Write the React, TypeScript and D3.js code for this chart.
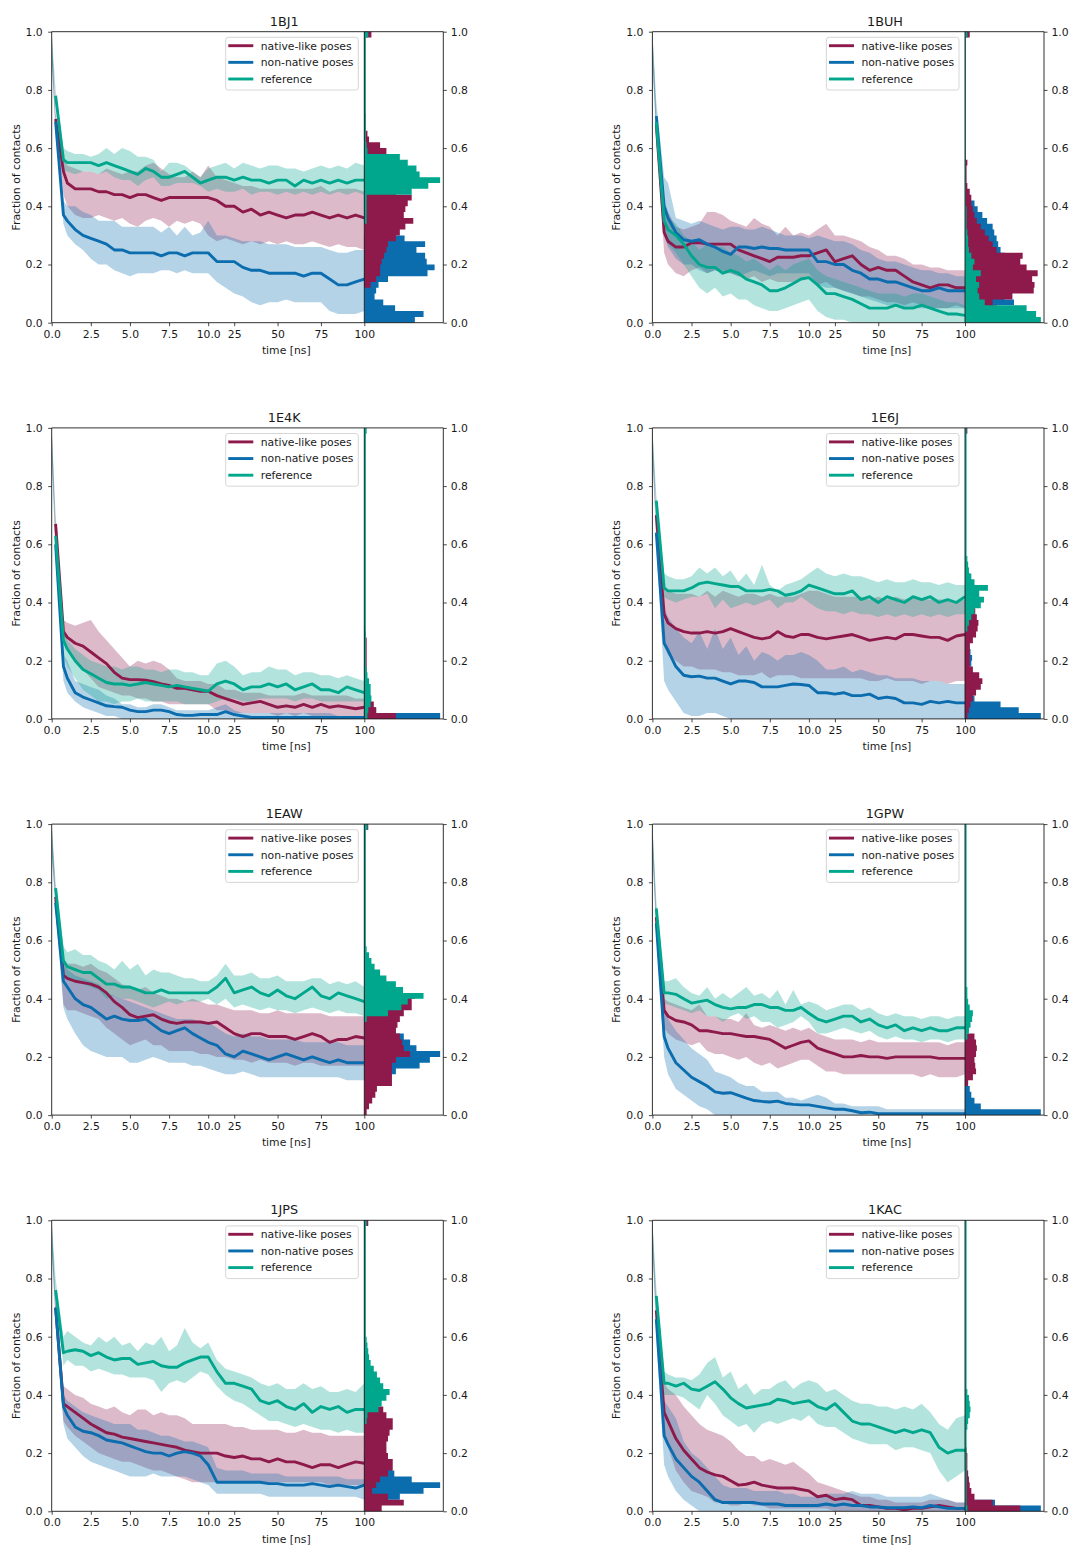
import React, { useEffect, useRef } from "react";
import * as d3 from "d3";

// sampling times [ns]; the time axis is split at 10 ns (two equal-width pieces)
const times = [0, 0.25, 0.75, 1, 1.5, 2, 2.5, 3, 3.5, 4, 4.5, 5, 5.5, 6, 6.5, 7, 7.5, 8, 8.5, 9, 9.5, 10,
  15, 20, 25, 30, 35, 40, 45, 50, 55, 60, 65, 70, 75, 80, 85, 90, 95, 100];
const timeTicks = [0, 2.5, 5, 7.5, 10, 25, 50, 75, 100];
const timeTickLabels = ["0.0", "2.5", "5.0", "7.5", "10.0", "25", "50", "75", "100"];
const fracTicks = [0, 20, 40, 60, 80, 100];
const seriesNames = ["native-like poses", "non-native poses", "reference"];
const seriesColors = ["#8e1a4c", "#0b6cae", "#00a78d"];
const BIN = 2; // histogram bin width in % of contacts (50 bins from 0 to 100)

// all values below: fraction of contacts in %

// ---- 1BJ1
const bj1Nat = [null, 70, 52, 48, 46, 46, 46, 45, 45, 44, 44, 43, 44, 44, 43, 42, 43, 43, 43, 43, 43, 43,
  42, 40, 40, 38, 39, 37, 38, 37, 36, 37, 37, 38, 37, 36, 37, 36, 37, 36];
const bj1NatHi = [100, 72, 56, 54, 53, 52, 52, 51, 53, 52, 51, 52, 52, 54, 55, 53, 51, 50, 50, 52, 50, 54,
  50, 49, 48, 47, 47, 46, 46, 46, 46, 46, 46, 46, 47, 45, 46, 46, 46, 45];
const bj1NatLo = [90, 66, 44, 40, 37, 36, 36, 37, 36, 35, 36, 34, 33, 35, 36, 35, 33, 35, 34, 35, 34, 30,
  28, 29, 28, 27, 28, 27, 28, 27, 28, 27, 27, 28, 27, 26, 27, 26, 26, 25];
const bj1Non = [null, 69, 37, 35, 32, 30, 29, 28, 27, 25, 25, 24, 24, 24, 24, 23, 24, 24, 23, 24, 24, 24,
  21, 21, 21, 19, 18, 18, 17, 17, 17, 17, 16, 17, 17, 15, 13, 13, 14, 15];
const bj1NonHi = [100, 70, 42, 40, 40, 38, 37, 35, 35, 35, 33, 33, 33, 33, 33, 31, 33, 30, 33, 30, 31, 35,
  30, 30, 29, 28, 28, 28, 27, 27, 27, 26, 26, 26, 26, 25, 24, 24, 25, 25];
const bj1NonLo = [90, 66, 34, 30, 27, 25, 22, 20, 20, 18, 17, 16, 17, 17, 17, 18, 18, 17, 18, 17, 17, 17,
  14, 12, 10, 9, 7, 6, 7, 7, 8, 7, 7, 7, 7, 4, 3, 3, 3, 4];
const bj1Ref = [null, 78, 56, 55, 55, 55, 55, 54, 55, 54, 53, 52, 51, 53, 52, 50, 50, 51, 52, 50, 48, 49,
  50, 50, 49, 50, 49, 49, 48, 49, 49, 47, 49, 48, 49, 48, 49, 48, 49, 49];
const bj1RefHi = [100, 80, 60, 59, 58, 58, 57, 58, 60, 58, 60, 59, 57, 57, 56, 52, 55, 55, 54, 52, 50, 53,
  54, 55, 53, 55, 54, 53, 54, 54, 53, 53, 52, 53, 54, 53, 54, 53, 55, 54];
const bj1RefLo = [90, 76, 52, 52, 51, 52, 52, 51, 52, 50, 49, 49, 47, 49, 50, 47, 47, 48, 48, 48, 47, 45,
  46, 45, 45, 46, 44, 45, 45, 44, 45, 44, 45, 44, 45, 44, 45, 44, 45, 44];
const bj1HistNat = [0, 0, 0, 0, 0, 0, 8, 15, 20, 20, 22, 25, 28, 30, 40, 45, 52, 62, 50, 52,
  55, 60, 40, 35, 35, 35, 33, 30, 28, 28, 20, 6, 4, 2, 2, 2, 1, 1, 1, 1, 1, 1, 1, 1, 1, 1, 1, 1, 1, 9];
const bj1HistNon = [64, 75, 39, 24, 13, 15, 18, 30, 80, 89, 79, 77, 66, 77, 51, 0, 0, 0, 0, 0,
  0, 0, 0, 0, 0, 0, 0, 0, 0, 0, 0, 0, 0, 0, 0, 0, 0, 0, 0, 0, 0, 0, 0, 0, 0, 0, 0, 0, 0, 0];
const bj1HistRef = [0, 0, 0, 0, 0, 0, 0, 0, 0, 0, 0, 0, 0, 0, 0, 0, 0, 3, 3, 3,
  3, 3, 60, 81, 96, 70, 66, 55, 45, 4, 3, 2, 2, 2, 2, 2, 2, 2, 2, 2, 2, 2, 2, 2, 2, 2, 2, 2, 2, 5];

// ---- 1BUH
const buhNat = [null, 68, 31, 28, 26, 26, 27.5, 27.5, 27, 27, 27, 27, 25, 24, 23, 22, 21, 22.5, 22.5, 22.5, 23, 23,
  24, 25, 21, 22, 23, 20, 18, 19, 18, 18, 16, 14, 13, 12, 13, 13, 12, 12];
const buhNatHi = [100, 70, 42, 38, 33, 32, 33, 34, 38, 38, 37, 35, 34, 33, 36, 34, 33, 30, 33, 30, 31, 30,
  32, 34, 30, 30, 29, 28, 26, 25, 23, 23, 22, 20, 20, 19, 19, 18, 18, 18];
const buhNatLo = [90, 66, 24, 20, 17, 16, 18, 19, 17, 18, 17, 17, 16, 15, 16, 14, 15, 14, 14, 14, 15, 15,
  13, 14, 12, 11, 10, 9, 9, 8, 7, 7, 6, 7, 6, 5, 5, 5, 6, 5];
const buhNon = [null, 71, 40, 36, 31, 28.5, 28, 28.5, 27, 26, 24.5, 23.5, 26, 26, 25.5, 26, 25.5, 25.5, 25, 25, 25, 25,
  21, 21, 20, 20, 18, 17, 15, 15, 14, 14, 13, 12, 11, 11, 12, 11, 11, 11];
const buhNonHi = [100, 76, 50, 48, 36, 35, 34, 35, 34, 33, 32, 33, 33, 32, 32, 33, 32, 31, 30, 30, 30, 29,
  30, 29, 28, 28, 27, 25, 24, 22, 21, 21, 20, 19, 18, 18, 17, 17, 16, 16];
const buhNonLo = [90, 62, 30, 26, 22, 20, 20, 18, 17, 18, 18, 17, 16, 17, 18, 17, 16, 17, 17, 17, 17, 17,
  13, 12, 12, 11, 10, 9, 8, 7, 6, 6, 5, 5, 5, 5, 5, 5, 5, 5];
const buhRef = [null, 69, 35, 32, 30, 27, 23, 20, 19, 19, 17, 18, 17, 15, 14, 13, 11, 11, 12, 13.5, 15, 15.5,
  13, 10, 10, 9, 8, 6.5, 5, 5, 5, 6, 5, 5, 6, 5, 4, 3, 3, 2.5];
const buhRefHi = [100, 72, 38, 36, 34, 30, 28, 25, 27, 26, 26, 24, 23, 21, 22, 20, 18, 20, 18, 20, 21, 22,
  18, 16, 15, 14, 13, 12, 11, 10, 10, 10, 9, 10, 10, 9, 8, 7, 7, 6];
const buhRefLo = [90, 66, 30, 27, 24, 20, 16, 12, 10, 12, 9, 10, 8, 8, 6, 5, 4, 4, 5, 6, 7, 8,
  4, 2, 1, 1, 0, 0, 0, 0, 0, 0, 0, 0, 0, 0, 0, 0, 0, 0];
const buhHistNat = [0, 0, 40, 35, 60, 87, 88, 85, 92, 78, 70, 73, 40, 35, 30, 25, 20, 15, 12, 10,
  8, 8, 6, 3, 2, 2, 2, 3, 1, 1, 1, 1, 1, 1, 1, 1, 1, 1, 1, 1, 1, 1, 1, 1, 1, 1, 1, 1, 1, 6];
const buhHistNon = [0, 0, 10, 62, 50, 50, 60, 70, 70, 60, 50, 50, 45, 42, 40, 37, 35, 28, 22, 16,
  12, 6, 2, 0, 0, 0, 0, 0, 0, 0, 0, 0, 0, 0, 0, 0, 0, 0, 0, 0, 0, 0, 0, 0, 0, 0, 0, 0, 0, 0];
const buhHistRef = [96, 90, 78, 25, 18, 16, 18, 14, 20, 10, 12, 8, 5, 4, 4, 3, 2, 2, 2, 2,
  1, 1, 1, 1, 1, 1, 1, 1, 1, 1, 1, 1, 1, 1, 1, 1, 1, 1, 1, 1, 1, 1, 1, 1, 1, 1, 1, 1, 1, 3];

// ---- 1E4K
const e4kNat = [null, 67, 30, 28, 26, 25, 23, 21, 19, 16, 14, 13.5, 13.5, 13.3, 12.8, 12, 11.5, 10.5, 10.5, 10, 9.5, 9.5,
  8, 7, 6, 5, 5.5, 6, 5, 4, 4.5, 4, 5, 4, 5, 4, 4.5, 4, 3.5, 4];
const e4kNatHi = [100, 70, 34, 33, 32, 33, 34, 30, 27, 24, 21, 18, 20, 19, 20, 19, 17, 14, 13, 13, 13, 12,
  12, 10, 10, 9, 9, 9, 8, 8, 8, 8, 9, 8, 8, 8, 8, 8, 7, 7];
const e4kNatLo = [90, 64, 27, 24, 20, 17, 14, 11, 10, 9, 8, 8, 7, 7, 6, 6, 5, 5, 5, 5, 5, 5,
  3, 3, 2, 2, 2, 2, 2, 1, 2, 1, 2, 1, 1, 1, 1, 1, 1, 1];
const e4kNon = [null, 60, 18, 14, 9, 7.5, 6.5, 5.5, 4.5, 4.2, 4, 3, 2.5, 2.5, 3, 3, 2.5, 1.5, 1.2, 1.2, 1.5, 1.5,
  1.5, 2.5, 1.5, 1, 0.5, 0.5, 0.5, 0.5, 0.5, 0.5, 0.5, 0.5, 0.5, 0.5, 0.5, 0.5, 0.5, 0.5];
const e4kNonHi = [100, 62, 22, 20, 13, 12, 11, 10, 8, 7, 5, 5, 4, 4, 5, 5, 4, 3, 3, 3, 3, 3,
  4, 5, 3, 2, 2, 2, 2, 2, 2, 2, 2, 2, 2, 2, 1, 1, 1, 1];
const e4kNonLo = [90, 56, 13, 9, 6, 4, 3, 2, 1, 1, 0, 0, 0, 0, 0, 0, 0, 0, 0, 0, 0, 0,
  0, 0, 0, 0, 0, 0, 0, 0, 0, 0, 0, 0, 0, 0, 0, 0, 0, 0];
const e4kRef = [null, 63, 27, 24, 20, 17, 15.5, 14, 12.5, 12, 12, 11.5, 12, 12.5, 12, 11.5, 11, 11.5, 11, 10.5, 10, 9.5,
  12, 13, 12, 10, 11, 11, 12, 11, 12, 10, 11, 12, 10, 10, 9, 11, 10, 9];
const e4kRefHi = [100, 66, 31, 27, 24, 22, 20, 19, 18, 18, 17, 18, 18, 17, 17, 16, 17, 17, 16, 16, 15, 15,
  19, 20, 18, 15, 16, 16, 18, 17, 17, 15, 16, 16, 15, 15, 14, 15, 14, 13];
const e4kRefLo = [90, 60, 22, 18, 14, 10, 8, 6, 6, 5, 6, 6, 7, 6, 6, 6, 6, 6, 5, 5, 5, 5,
  6, 7, 7, 6, 6, 7, 7, 7, 7, 6, 7, 7, 6, 6, 6, 6, 6, 6];
const e4kHistNat = [40, 15, 12, 8, 5, 4, 3, 3, 3, 3, 3, 3, 3, 3, 2, 1, 0, 0, 0, 0,
  0, 0, 0, 0, 0, 0, 0, 0, 0, 0, 0, 0, 0, 0, 0, 0, 0, 0, 0, 0, 0, 0, 0, 0, 0, 0, 0, 0, 0, 0];
const e4kHistNon = [96, 15, 5, 0, 0, 0, 0, 0, 0, 0, 0, 0, 0, 0, 0, 0, 0, 0, 0, 0,
  0, 0, 0, 0, 0, 0, 0, 0, 0, 0, 0, 0, 0, 0, 0, 0, 0, 0, 0, 0, 0, 0, 0, 0, 0, 0, 0, 0, 0, 0];
const e4kHistRef = [4, 5, 8, 9, 8, 8, 6, 4, 3, 2, 2, 2, 2, 2, 2, 2, 2, 2, 2, 2,
  2, 2, 2, 2, 2, 2, 2, 2, 2, 2, 2, 2, 2, 2, 2, 2, 2, 2, 2, 2, 2, 2, 2, 2, 2, 2, 2, 2, 2, 3];

// ---- 1E6J
const e6jNat = [null, 70, 36, 33, 31, 30, 29.5, 29.5, 30, 29.5, 30, 31, 30, 29, 28, 27.5, 28, 30, 28.5, 28, 29, 29,
  28, 27.5, 28, 28.5, 29, 28, 27, 27.5, 28, 27.5, 29, 29, 28.5, 28, 28, 27, 28.5, 29];
const e6jNatHi = [100, 72, 45, 44, 43, 43, 43, 42, 44, 42, 44, 43, 42, 43, 43, 42, 43, 42, 42, 42, 43, 44,
  44, 43, 42, 42, 42, 42, 41, 42, 41, 42, 41, 42, 41, 41, 41, 41, 40, 41];
const e6jNatLo = [90, 66, 25, 22, 20, 18, 18, 17, 17, 17, 16, 16, 15, 15, 15, 16, 14, 15, 15, 15, 14, 14,
  14, 14, 14, 14, 14, 14, 13, 13, 14, 13, 13, 13, 12, 13, 13, 12, 13, 13];
const e6jNon = [null, 64, 26, 23.5, 18, 15, 14.5, 14.7, 14, 14, 13, 12, 13, 13, 12.5, 11, 11, 11, 11.5, 12, 11.8, 11.5,
  9, 9, 8.5, 9, 8, 8, 8.5, 7, 7.5, 7, 5.5, 5.5, 5, 6, 5.5, 6, 5.5, 5.5];
const e6jNonHi = [100, 66, 38, 35, 31, 28, 26, 30, 24, 31, 24, 28, 22, 25, 20, 23, 22, 20, 22, 22, 23, 22,
  20, 17, 17, 18, 16, 17, 16, 15, 15, 14, 14, 14, 13, 13, 13, 12, 12, 12];
const e6jNonLo = [90, 60, 13, 10, 6, 2, 1, 1, 2, 2, 1, 0, 0, 0, 0, 0, 0, 0, 0, 0, 0, 0,
  0, 0, 0, 0, 0, 0, 0, 0, 0, 0, 0, 0, 0, 0, 0, 0, 0, 0];
const e6jRef = [null, 75, 45, 44, 44, 44, 45, 46.5, 47, 46.5, 46, 45.5, 45.5, 44, 44, 44, 44.5, 44, 42.5, 43, 44, 46,
  45, 44, 43, 43, 44, 41, 42, 40, 42, 41, 40, 42, 41, 42, 40, 41, 40, 42];
const e6jRefHi = [100, 77, 50, 49, 48, 48, 49, 52, 50, 52, 49, 51, 47, 50, 46, 53, 46, 44, 46, 47, 48, 50,
  52, 50, 49, 50, 49, 49, 48, 47, 48, 47, 47, 48, 47, 47, 46, 47, 46, 46];
const e6jRefLo = [90, 73, 42, 41, 40, 41, 42, 42, 43, 38, 41, 38, 39, 40, 39, 40, 41, 38, 40, 40, 42, 40,
  38, 37, 37, 36, 37, 36, 36, 35, 36, 35, 36, 35, 36, 35, 36, 35, 36, 36];
const e6jHistNat = [3, 5, 7, 10, 14, 20, 22, 18, 10, 6, 6, 6, 6, 10, 14, 16, 17, 15, 13, 6,
  5, 4, 4, 6, 6, 4, 3, 1, 1, 1, 1, 1, 1, 1, 1, 1, 1, 1, 1, 1, 1, 1, 1, 1, 1, 1, 1, 1, 1, 3];
const e6jHistNon = [96, 68, 45, 12, 8, 6, 5, 5, 5, 8, 9, 7, 6, 5, 4, 3, 2, 1, 0, 0,
  0, 0, 0, 0, 0, 0, 0, 0, 0, 0, 0, 0, 0, 0, 0, 0, 0, 0, 0, 0, 0, 0, 0, 0, 0, 0, 0, 0, 0, 0];
const e6jHistRef = [0, 0, 0, 0, 0, 0, 0, 0, 0, 0, 0, 0, 0, 0, 0, 3, 5, 8, 12, 20,
  24, 18, 29, 12, 8, 5, 4, 3, 2, 2, 2, 2, 2, 2, 2, 2, 2, 2, 2, 2, 2, 2, 2, 2, 2, 2, 2, 2, 2, 2];

// ---- 1EAW
const eawNat = [null, 75, 48, 47, 46, 45.5, 45, 44, 42, 39, 37, 34.5, 33.5, 34, 34.5, 33, 32, 31.5, 32, 32, 32, 31.5,
  32, 30, 28, 27, 28, 28, 27, 27, 27, 26, 27, 28, 27, 25, 26, 26, 27, 26.5];
const eawNatHi = [100, 77, 54, 52, 52, 51, 52, 50, 49, 47, 45, 44, 43, 44, 42, 41, 40, 40, 39, 40, 39, 38,
  38, 37, 36, 36, 36, 35, 35, 36, 35, 35, 35, 35, 35, 34, 34, 34, 34, 34];
const eawNatLo = [90, 73, 38, 36, 36, 35, 34, 33, 30, 28, 26, 24, 25, 26, 24, 24, 22, 22, 22, 22, 21, 21,
  20, 20, 19, 19, 18, 19, 18, 18, 18, 17, 18, 18, 17, 17, 17, 17, 17, 17];
const eawNon = [null, 73, 46, 44, 40, 38, 37, 35, 33, 34, 33, 32.5, 32.5, 33, 31, 29, 28, 29, 30, 28, 26.5, 25,
  24, 21, 20, 22, 21, 20, 19, 20, 21, 20, 19, 20, 19, 18, 19, 18, 18, 18];
const eawNonHi = [100, 75, 52, 50, 48, 47, 46, 45, 42, 41, 40, 39, 38, 37, 36, 35, 34, 33, 33, 33, 32, 32,
  30, 28, 27, 28, 27, 27, 26, 26, 26, 26, 25, 25, 25, 25, 25, 24, 24, 24];
const eawNonLo = [90, 70, 37, 33, 28, 24, 22, 21, 20, 20, 20, 18, 18, 19, 20, 19, 18, 18, 18, 17, 17, 16,
  15, 14, 14, 15, 14, 13, 13, 13, 13, 13, 13, 13, 13, 13, 13, 12, 12, 12];
const eawRef = [null, 78, 53, 51, 50, 49, 49, 47, 45, 45, 44, 44, 43, 42, 42, 43, 42, 42, 42, 42, 42, 42,
  44, 47, 42, 43, 44, 42, 41, 43, 41, 40, 42, 44, 41, 40, 42, 41, 40, 39];
const eawRefHi = [100, 80, 58, 56, 57, 55, 55, 53, 52, 50, 53, 50, 52, 48, 50, 49, 49, 48, 47, 47, 46, 46,
  48, 52, 48, 48, 49, 47, 47, 48, 46, 46, 46, 47, 47, 45, 46, 45, 46, 44];
const eawRefLo = [90, 76, 48, 47, 46, 45, 44, 43, 40, 41, 40, 40, 39, 38, 37, 38, 39, 38, 39, 39, 39, 40,
  38, 40, 37, 38, 37, 36, 37, 36, 36, 35, 36, 37, 36, 35, 36, 35, 35, 34];
const eawHistNat = [3, 6, 10, 14, 16, 35, 35, 35, 35, 40, 58, 50, 48, 45, 40, 42, 45, 50, 60, 60,
  64, 30, 20, 15, 10, 5, 3, 2, 1, 1, 1, 1, 1, 1, 1, 1, 1, 1, 1, 1, 1, 1, 1, 1, 1, 1, 1, 1, 1, 5];
const eawHistNon = [0, 0, 0, 0, 0, 0, 15, 40, 70, 83, 96, 66, 58, 50, 40, 30, 20, 10, 4, 0,
  0, 0, 0, 0, 0, 0, 0, 0, 0, 0, 0, 0, 0, 0, 0, 0, 0, 0, 0, 0, 0, 0, 0, 0, 0, 0, 0, 0, 0, 0];
const eawHistRef = [0, 0, 0, 0, 0, 0, 0, 0, 0, 0, 0, 0, 0, 0, 0, 0, 3, 30, 47, 55,
  75, 49, 40, 28, 20, 13, 9, 6, 3, 2, 2, 2, 2, 2, 2, 2, 2, 2, 2, 2, 2, 2, 2, 2, 2, 2, 2, 2, 2, 4];

// ---- 1GPW
const gpwNat = [null, 68, 36, 34, 32.5, 32, 31, 29, 29, 28.5, 28, 28, 27.5, 27, 27, 26.5, 26, 24.5, 23, 24, 25, 25.5,
  23, 22, 21, 20, 20, 20.5, 20, 20, 19.5, 20, 20, 20, 20, 20, 19.5, 19.5, 19.5, 19.5];
const gpwNatHi = [100, 70, 40, 39, 38, 37, 36, 38, 34, 34, 33, 33, 32, 35, 31, 30, 31, 30, 29, 30, 29, 30,
  28, 27, 26, 26, 26, 25, 26, 25, 25, 25, 25, 25, 25, 25, 25, 24, 25, 25];
const gpwNatLo = [90, 64, 30, 28, 26, 25, 24, 25, 22, 21, 21, 20, 19, 20, 18, 17, 18, 16, 17, 18, 19, 19,
  17, 15, 15, 14, 14, 14, 14, 14, 14, 14, 14, 14, 13, 14, 13, 13, 13, 14];
const gpwNon = [null, 66, 27, 23, 18, 15.5, 13, 11.5, 10, 8, 7.5, 7.7, 6.8, 5.8, 5, 4.7, 4.5, 4.8, 4, 3.7, 3.5, 3.5,
  3, 2.5, 2, 2, 1.5, 0.8, 1, 0.5, 0.5, 0.5, 0.5, 0.5, 0.5, 0.5, 0.5, 0.5, 0.5, 0.5];
const gpwNonHi = [100, 68, 36, 33, 29, 26, 23, 21, 19, 15, 14, 13, 11, 10, 10, 8, 8, 8, 6, 6, 5, 6,
  7, 6, 4, 4, 3, 3, 3, 3, 2, 2, 2, 2, 2, 2, 2, 2, 2, 2];
const gpwNonLo = [90, 62, 20, 14, 9, 7, 5, 3, 2, 0, 0, 0, 0, 0, 0, 0, 0, 0, 0, 0, 0, 0,
  0, 0, 0, 0, 0, 0, 0, 0, 0, 0, 0, 0, 0, 0, 0, 0, 0, 0];
const gpwRef = [null, 71, 42, 42, 41.5, 40, 38.5, 39, 39.5, 38, 37, 36.5, 37, 37, 38, 38, 37, 37, 36, 36, 37, 35,
  33, 32, 33, 34, 34, 32, 33, 31, 30, 31, 29, 30, 29, 30, 29, 29, 30, 30];
const gpwRefHi = [100, 74, 46, 46, 47, 44, 42, 41, 44, 40, 42, 40, 42, 44, 41, 42, 40, 43, 38, 43, 38, 39,
  38, 36, 37, 38, 38, 36, 37, 35, 34, 35, 34, 34, 33, 34, 34, 33, 34, 34];
const gpwRefLo = [90, 68, 38, 38, 37, 36, 35, 36, 34, 34, 32, 34, 35, 33, 34, 32, 32, 30, 31, 32, 34, 32,
  28, 28, 29, 30, 29, 28, 29, 27, 26, 27, 26, 26, 25, 26, 26, 25, 26, 26];
const gpwHistNat = [0, 0, 0, 0, 0, 4, 10, 14, 13, 12, 14, 15, 14, 12, 0, 0, 0, 0, 0, 0,
  0, 0, 0, 0, 0, 0, 0, 0, 0, 0, 0, 0, 0, 0, 0, 0, 0, 0, 0, 0, 0, 0, 0, 0, 0, 0, 0, 0, 0, 0];
const gpwHistNon = [96, 20, 12, 8, 6, 0, 0, 0, 0, 0, 0, 0, 0, 0, 0, 0, 0, 0, 0, 0,
  0, 0, 0, 0, 0, 0, 0, 0, 0, 0, 0, 0, 0, 0, 0, 0, 0, 0, 0, 0, 0, 0, 0, 0, 0, 0, 0, 0, 0, 0];
const gpwHistRef = [0, 0, 0, 0, 0, 0, 0, 0, 0, 0, 0, 0, 0, 3, 5, 7, 9, 10, 6, 4,
  3, 3, 2, 2, 2, 2, 2, 2, 2, 2, 2, 2, 2, 2, 2, 2, 2, 2, 2, 2, 2, 2, 2, 2, 2, 2, 2, 2, 2, 2];

// ---- 1JPS
const jpsNat = [null, 70, 37, 36, 34, 32, 30, 28.5, 27, 26.5, 25.5, 25, 24.5, 24, 23.5, 23, 22.5, 22, 21, 20.5, 20, 20,
  20, 19, 18.5, 19, 18, 18, 17, 18, 17, 17, 16, 15, 16, 16, 15, 16, 17, 16.5];
const jpsNatHi = [100, 72, 43, 42, 40, 39, 37, 36, 35, 36, 34, 33, 35, 35, 33, 34, 33, 33, 32, 30, 30, 30,
  30, 30, 29, 29, 28, 28, 28, 28, 27, 27, 28, 27, 27, 26, 26, 26, 26, 26];
const jpsNatLo = [90, 66, 31, 29, 26, 24, 22, 20, 19, 18, 17, 17, 16, 15, 14, 14, 13, 12, 11, 10, 10, 10,
  10, 10, 10, 10, 10, 10, 10, 10, 10, 10, 10, 10, 10, 9, 9, 9, 9, 9];
const jpsNon = [null, 70, 36, 33, 29, 27.5, 27, 26, 24.5, 24, 23.5, 22.5, 21.5, 20.5, 20, 20, 19, 20, 20.5, 20, 19, 16,
  10, 10, 10, 10, 10, 10, 9.5, 9.5, 9, 9, 9, 9.5, 9, 8.5, 9, 8.5, 8, 9];
const jpsNonHi = [100, 72, 40, 38, 36, 34, 33, 32, 31, 30, 30, 30, 28, 28, 27, 26, 26, 25, 24, 24, 23, 22,
  15, 14, 14, 14, 13, 13, 13, 13, 12, 12, 12, 12, 12, 12, 12, 11, 11, 11];
const jpsNonLo = [90, 66, 30, 25, 22, 19, 17, 16, 15, 14, 13, 12, 12, 12, 13, 12, 12, 12, 12, 11, 10, 9,
  6, 6, 6, 6, 6, 6, 5, 5, 5, 5, 5, 5, 5, 5, 5, 5, 5, 4];
const jpsRef = [null, 76, 54.5, 55, 55.5, 55, 53.5, 54.5, 53, 52, 52.5, 52.5, 50.5, 51, 51.5, 50, 49.5, 49.5, 51, 52, 53, 53,
  48, 44, 44, 43, 42, 38, 37, 38, 36, 35, 37, 34, 36, 35, 36, 34, 35, 35];
const jpsRefHi = [100, 80, 60, 62, 60, 58, 57, 60, 58, 60, 57, 58, 55, 58, 57, 60, 55, 57, 63, 58, 56, 58,
  52, 49, 48, 47, 46, 44, 43, 44, 42, 42, 44, 42, 43, 41, 41, 42, 41, 44];
const jpsRefLo = [90, 72, 50, 52, 50, 50, 48, 49, 48, 47, 47, 46, 46, 46, 45, 41, 44, 45, 44, 46, 48, 47,
  43, 40, 38, 37, 35, 33, 31, 31, 30, 29, 30, 29, 28, 28, 27, 28, 27, 27];
const jpsHistNat = [22, 50, 30, 10, 15, 20, 30, 36, 36, 30, 28, 28, 30, 32, 36, 36, 28, 24, 10, 5,
  3, 2, 1, 1, 1, 1, 1, 1, 1, 1, 1, 1, 1, 1, 1, 1, 1, 1, 1, 1, 1, 1, 1, 1, 1, 1, 1, 1, 1, 5];
const jpsHistNon = [0, 0, 45, 75, 96, 60, 38, 35, 20, 10, 0, 0, 0, 0, 0, 0, 0, 0, 0, 0,
  0, 0, 0, 0, 0, 0, 0, 0, 0, 0, 0, 0, 0, 0, 0, 0, 0, 0, 0, 0, 0, 0, 0, 0, 0, 0, 0, 0, 0, 0];
const jpsHistRef = [0, 0, 0, 0, 0, 0, 0, 0, 0, 0, 0, 0, 0, 0, 0, 3, 4, 18, 22, 28,
  32, 24, 20, 16, 12, 8, 6, 5, 4, 3, 2, 2, 2, 2, 2, 2, 2, 2, 2, 2, 2, 2, 2, 2, 2, 2, 2, 2, 2, 3];

// ---- 1KAC
const kacNat = [null, 69, 34, 31, 25, 21, 18, 15, 13.5, 12.5, 12, 10.5, 9, 9.3, 10, 9, 8.5, 8, 8, 8, 7.5, 7,
  5, 5.5, 4, 4.5, 4, 2, 2, 1.5, 1, 1, 0.5, 1, 1, 1.5, 2, 1.5, 1, 1];
const kacNatHi = [100, 72, 44, 42, 40, 36, 33, 30, 28, 27, 26, 24, 21, 19, 19, 17, 18, 17, 16, 17, 15, 13,
  10, 9, 8, 7, 6, 5, 5, 4, 4, 3, 3, 3, 3, 4, 4, 4, 3, 3];
const kacNatLo = [90, 66, 26, 22, 14, 10, 7, 6, 5, 3, 3, 2, 2, 3, 2, 2, 1, 1, 1, 1, 1, 1,
  1, 1, 0, 0, 0, 0, 0, 0, 0, 0, 0, 0, 0, 0, 0, 0, 0, 0];
const kacNon = [null, 66, 26, 23, 18, 15, 12, 10, 7, 4, 3, 3, 3, 3, 3, 2.5, 2.5, 2.5, 2, 2, 2, 2,
  2, 2.5, 2, 2.5, 2, 2, 1.5, 1.5, 1.2, 1.2, 1.2, 1.5, 1.2, 2, 1.5, 1, 1, 1];
const kacNonHi = [100, 68, 38, 36, 32, 24, 20, 18, 15, 12, 9, 8, 8, 8, 7, 7, 7, 7, 6, 6, 5, 5,
  5, 6, 6, 6, 7, 6, 6, 6, 5, 5, 5, 5, 5, 6, 5, 4, 3, 3];
const kacNonLo = [90, 60, 16, 12, 7, 4, 2, 0, 0, 0, 0, 0, 0, 0, 0, 0, 0, 0, 0, 0, 0, 0,
  0, 0, 0, 0, 0, 0, 0, 0, 0, 0, 0, 0, 0, 0, 0, 0, 0, 0];
const kacRef = [null, 74, 44, 44, 43, 44, 42, 41.5, 43, 44.5, 42, 39, 37, 35.5, 36, 36.5, 37, 38.5, 38, 37, 37.5, 38,
  36, 35, 37, 34, 31, 30, 30, 29, 28, 27, 28, 27, 28, 27, 22, 20, 21, 21];
const kacRefHi = [100, 77, 48, 47, 46, 46, 45, 47, 51, 53, 46, 48, 42, 44, 40, 42, 42, 44, 45, 42, 44, 45,
  44, 41, 42, 40, 38, 37, 37, 36, 36, 35, 36, 35, 37, 34, 30, 28, 32, 33];
const kacRefLo = [90, 70, 40, 40, 40, 39, 37, 35, 40, 37, 33, 31, 29, 30, 27, 30, 31, 30, 31, 32, 31, 33,
  30, 29, 29, 27, 25, 24, 23, 23, 23, 21, 22, 22, 21, 20, 14, 10, 12, 14];
const kacHistNat = [70, 35, 12, 8, 6, 5, 4, 3, 3, 3, 2, 1, 0, 0, 0, 0, 0, 0, 0, 0,
  0, 0, 0, 0, 0, 0, 0, 0, 0, 0, 0, 0, 0, 0, 0, 0, 0, 0, 0, 0, 0, 0, 0, 0, 0, 0, 0, 0, 0, 0];
const kacHistNon = [96, 38, 5, 0, 0, 0, 0, 0, 0, 0, 0, 0, 0, 0, 0, 0, 0, 0, 0, 0,
  0, 0, 0, 0, 0, 0, 0, 0, 0, 0, 0, 0, 0, 0, 0, 0, 0, 0, 0, 0, 0, 0, 0, 0, 0, 0, 0, 0, 0, 0];
const kacHistRef = [3, 2, 2, 2, 2, 2, 2, 2, 2, 2, 2, 2, 2, 2, 3, 4, 6, 7, 6, 5,
  3, 2, 2, 2, 2, 2, 2, 2, 2, 2, 2, 2, 2, 2, 2, 2, 2, 2, 2, 2, 2, 2, 2, 2, 2, 2, 2, 2, 2, 2];

// series order everywhere: native-like, non-native, reference
const panels = [
  { title: "1BJ1", mean: [bj1Nat, bj1Non, bj1Ref], lo: [bj1NatLo, bj1NonLo, bj1RefLo], hi: [bj1NatHi, bj1NonHi, bj1RefHi], hist: [bj1HistNat, bj1HistNon, bj1HistRef] },
  { title: "1BUH", mean: [buhNat, buhNon, buhRef], lo: [buhNatLo, buhNonLo, buhRefLo], hi: [buhNatHi, buhNonHi, buhRefHi], hist: [buhHistNat, buhHistNon, buhHistRef] },
  { title: "1E4K", mean: [e4kNat, e4kNon, e4kRef], lo: [e4kNatLo, e4kNonLo, e4kRefLo], hi: [e4kNatHi, e4kNonHi, e4kRefHi], hist: [e4kHistNat, e4kHistNon, e4kHistRef] },
  { title: "1E6J", mean: [e6jNat, e6jNon, e6jRef], lo: [e6jNatLo, e6jNonLo, e6jRefLo], hi: [e6jNatHi, e6jNonHi, e6jRefHi], hist: [e6jHistNat, e6jHistNon, e6jHistRef] },
  { title: "1EAW", mean: [eawNat, eawNon, eawRef], lo: [eawNatLo, eawNonLo, eawRefLo], hi: [eawNatHi, eawNonHi, eawRefHi], hist: [eawHistNat, eawHistNon, eawHistRef] },
  { title: "1GPW", mean: [gpwNat, gpwNon, gpwRef], lo: [gpwNatLo, gpwNonLo, gpwRefLo], hi: [gpwNatHi, gpwNonHi, gpwRefHi], hist: [gpwHistNat, gpwHistNon, gpwHistRef] },
  { title: "1JPS", mean: [jpsNat, jpsNon, jpsRef], lo: [jpsNatLo, jpsNonLo, jpsRefLo], hi: [jpsNatHi, jpsNonHi, jpsRefHi], hist: [jpsHistNat, jpsHistNon, jpsHistRef] },
  { title: "1KAC", mean: [kacNat, kacNon, kacRef], lo: [kacNatLo, kacNonLo, kacRefLo], hi: [kacNatHi, kacNonHi, kacRefHi], hist: [kacHistNat, kacHistNon, kacHistRef] },
];

const FONT = "'DejaVu Sans', sans-serif";
const TEXT = "#1a1a1a";
const FS = 10.8;

function drawPanel(svg, p, i) {
  const ox = (i % 2) * 600.7;
  const top = 31.7 + Math.floor(i / 2) * 396.2;
  const bottom = top + 291;
  const xL = 51.7 + ox, xM = 208.2 + ox, xH = 364.3 + ox, xR = 443.3 + ox;

  const x = d3.scaleLinear().domain([0, 10, 100]).range([xL, xM, xH]);
  const y = d3.scaleLinear().domain([0, 100]).range([bottom, top]);
  const hx = d3.scaleLinear().domain([0, 100]).range([xH, xR]);

  const g = svg.append("g");
  const clipId = `clip-${i}`;
  g.append("clipPath").attr("id", clipId)
    .append("rect").attr("x", xL).attr("y", top).attr("width", xH - xL).attr("height", bottom - top);

  const idx = d3.range(times.length);
  const plot = g.append("g").attr("clip-path", `url(#${clipId})`);

  // shaded spread bands
  [0, 1, 2].forEach((s) => {
    const lo = p.lo[s], hi = p.hi[s];
    const band = d3.area<number>()
      .defined((k) => lo[k] != null && hi[k] != null)
      .x((k) => x(times[k]))
      .y0((k) => y(lo[k]))
      .y1((k) => y(hi[k]));
    plot.append("path").attr("d", band(idx)).attr("fill", seriesColors[s]).attr("fill-opacity", 0.3);
  });

  // mean lines
  [0, 1, 2].forEach((s) => {
    const m = p.mean[s];
    const line = d3.line<number>()
      .defined((k) => m[k] != null)
      .x((k) => x(times[k]))
      .y((k) => y(m[k]));
    plot.append("path").attr("d", line(idx)).attr("fill", "none")
      .attr("stroke", seriesColors[s]).attr("stroke-width", 2.9)
      .attr("stroke-linejoin", "round");
  });

  // histograms of the contact fraction at the end (drawn: non-native, native-like, reference)
  const edges = d3.range(p.hist[0].length + 1);
  [1, 0, 2].forEach((s) => {
    const h = p.hist[s];
    const step = d3.area<number>()
      .curve(d3.curveStepBefore)
      .y((k) => y(k * BIN))
      .x0(hx(0))
      .x1((k) => hx(h[Math.min(k, h.length - 1)]));
    g.append("path").attr("d", step(edges)).attr("fill", seriesColors[s]);
  });

  // axes
  const styleAxis = (ax) => {
    ax.select(".domain").remove();
    ax.selectAll(".tick line").attr("stroke", TEXT).attr("stroke-width", 0.8);
    ax.selectAll(".tick text").attr("fill", TEXT).attr("font-size", FS).attr("font-family", FONT);
  };
  g.append("g").attr("transform", `translate(0,${bottom})`)
    .call(d3.axisBottom(x).tickValues(timeTicks).tickFormat((_, k) => timeTickLabels[k]).tickSize(3.5).tickPadding(3.8))
    .call(styleAxis);
  g.append("g").attr("transform", `translate(${xL},0)`)
    .call(d3.axisLeft(y).tickValues(fracTicks).tickFormat((d) => (d / 100).toFixed(1)).tickSize(3.5).tickPadding(5.5))
    .call(styleAxis);
  g.append("g").attr("transform", `translate(${xR},0)`)
    .call(d3.axisRight(y).tickValues(fracTicks).tickFormat((d) => (d / 100).toFixed(1)).tickSize(3.5).tickPadding(4))
    .call(styleAxis);

  // spines
  const spine = (x1, y1, x2, y2) =>
    g.append("line").attr("x1", x1).attr("y1", y1).attr("x2", x2).attr("y2", y2)
      .attr("stroke", TEXT).attr("stroke-width", 0.9);
  spine(xL, top, xR, top);
  spine(xL, bottom, xR, bottom);
  spine(xL, top, xL, bottom);
  spine(xR, top, xR, bottom);
  spine(xH, top, xH, bottom);

  // labels
  const xc = (xM + xH) / 2;
  g.append("text").attr("x", xc - 2).attr("y", top - 6.2).attr("text-anchor", "middle")
    .attr("font-family", FONT).attr("font-size", 12.8).attr("fill", TEXT).text(p.title);
  g.append("text").attr("x", xc).attr("y", bottom + 31.3).attr("text-anchor", "middle")
    .attr("font-family", FONT).attr("font-size", FS).attr("fill", TEXT).text("time [ns]");
  g.append("text")
    .attr("transform", `translate(${xL - 32.2},${(top + bottom) / 2}) rotate(-90)`)
    .attr("text-anchor", "middle").attr("font-family", FONT).attr("font-size", FS).attr("fill", TEXT)
    .text("Fraction of contacts");

  // legend
  const lg = g.append("g").attr("transform", `translate(${xL + 174},${top + 5.6})`);
  lg.append("rect").attr("width", 132.6).attr("height", 52.7).attr("rx", 2.5)
    .attr("fill", "white").attr("fill-opacity", 0.8).attr("stroke", "#cccccc").attr("stroke-width", 0.8);
  seriesNames.forEach((name, s) => {
    const cy = 8.4 + s * 16.65;
    lg.append("line").attr("x1", 2.6).attr("x2", 27.6).attr("y1", cy).attr("y2", cy)
      .attr("stroke", seriesColors[s]).attr("stroke-width", 2.9);
    lg.append("text").attr("x", 35).attr("y", cy).attr("dy", "0.36em")
      .attr("font-family", FONT).attr("font-size", FS).attr("fill", TEXT).text(name);
  });
}

export default function App() {
  const svgRef = useRef<SVGSVGElement>(null);

  useEffect(() => {
    const svg = d3.select(svgRef.current);
    svg.selectAll("*").remove();
    panels.forEach((p, i) => drawPanel(svg, p, i));
  }, []);

  return (
    <svg
      ref={svgRef}
      width={1070}
      height={1548}
      style={{ position: "absolute", left: 0, top: 0, background: "white" }}
    />
  );
}
